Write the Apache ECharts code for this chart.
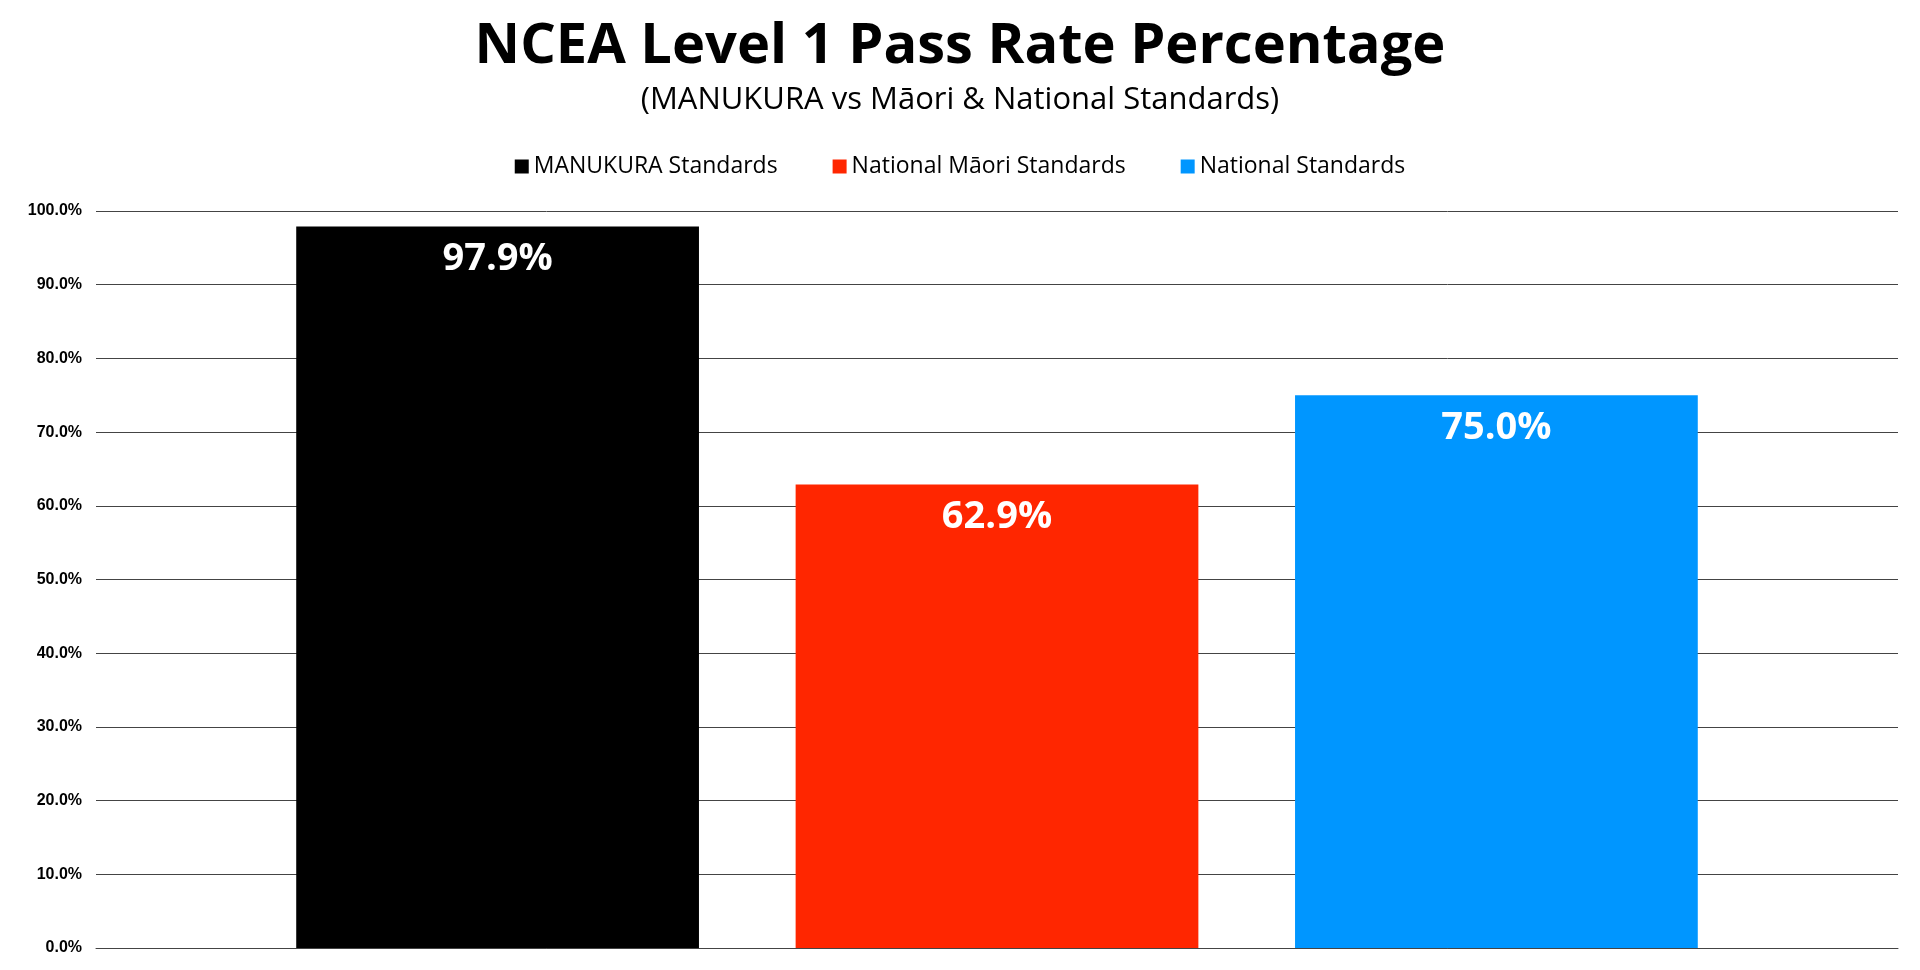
<!DOCTYPE html>
<html><head><meta charset="utf-8">
<script src="https://cdn.jsdelivr.net/npm/echarts@6/dist/echarts.min.js"></script>
<style>html,body{margin:0;padding:0;background:#fff}#main{width:1920px;height:970px}</style>
</head><body><div id="main"></div>
<script>
var seriesNames = ['MANUKURA Standards', 'National Māori Standards', 'National Standards'];
var seriesValues = [97.9, 62.9, 75.0];
var seriesColors = ['#000000', '#ff2600', '#0096ff'];
var categories = [''];

var myChart = echarts.init(document.getElementById('main'));
var series = seriesNames.map(function (name, i) {
  return {
    name: name, type: 'bar', data: [seriesValues[i]],
    barWidth: '22.35%', barGap: '24%',
    itemStyle: { color: seriesColors[i] },
    label: { show: true, position: 'insideTop', distance: 14, color: '#fff',
      fontSize: 38, fontWeight: 'bold', fontFamily: 'Open Sans',
      formatter: function (p) { return p.value.toFixed(1) + '%'; } }
  };
});
myChart.setOption({
  title: {
    text: 'NCEA Level 1 Pass Rate Percentage',
    subtext: '(MANUKURA vs Māori & National Standards)',
    left: 'center', top: 14, itemGap: 10,
    textStyle: { fontSize: 56, fontWeight: 'bold', color: '#000', fontFamily: 'Open Sans' },
    subtextStyle: { fontSize: 31, color: '#000', fontFamily: 'Open Sans' }
  },
  legend: {
    top: 150, left: 'center', itemWidth: 14, itemHeight: 14, itemGap: 55, icon: 'rect',
    textStyle: { fontSize: 23, color: '#000', fontFamily: 'Open Sans' }
  },
  grid: { left: 96, right: 22, top: 211, bottom: 22 },
  xAxis: { type: 'category', data: categories,
    axisLine: { lineStyle: { color: '#444' } }, axisTick: { show: false }, axisLabel: { show: false } },
  yAxis: { type: 'value', min: 0, max: 100, interval: 10,
    axisLabel: { formatter: function (v) { return v.toFixed(1) + '%'; }, fontSize: 16, fontWeight: 'bold', color: '#000', margin: 14 },
    splitLine: { lineStyle: { color: '#444', width: 1 } } },
  series: series
});
</script></body></html>
